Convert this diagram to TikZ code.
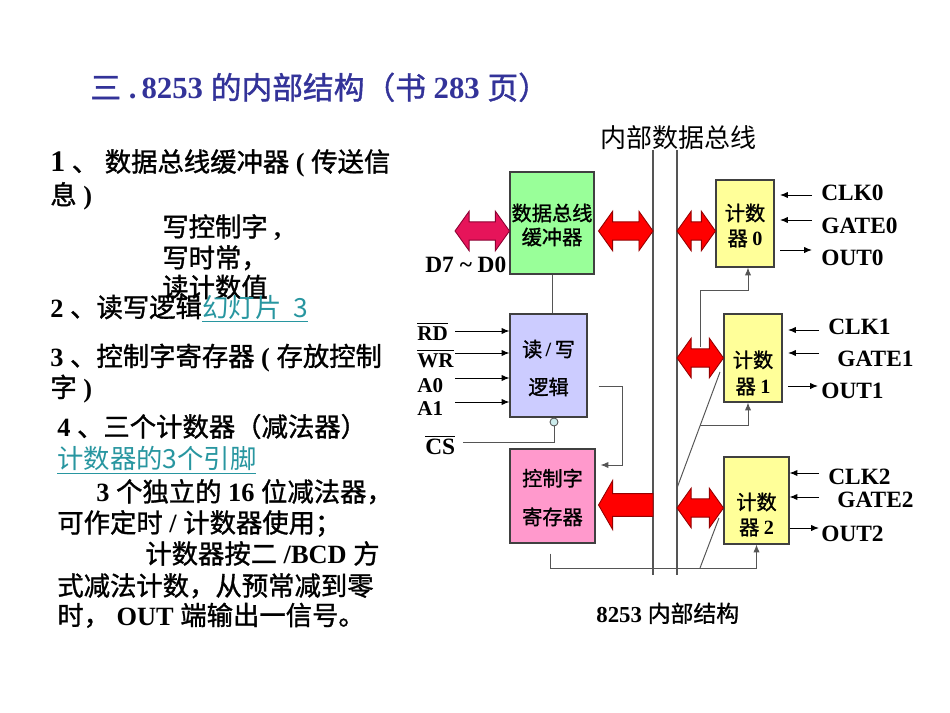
\documentclass[tikz,border=0pt]{standalone}
\usepackage{fontspec}
\setmainfont{Liberation Serif}
\newfontfamily\cjk{Noto Sans CJK SC}[FakeBold=1.2]
\newfontfamily\cjklight{Noto Sans CJK SC}
\usetikzlibrary{arrows.meta,calc}
\definecolor{titleblue}{RGB}{51,51,153}
\definecolor{linkteal}{RGB}{40,150,160}
\definecolor{bufgreen}{RGB}{153,255,153}
\definecolor{rwblue}{RGB}{204,204,255}
\definecolor{regpink}{RGB}{255,153,204}
\definecolor{cntyellow}{RGB}{255,255,153}
\definecolor{arrred}{RGB}{255,0,0}
\definecolor{arrdark}{RGB}{150,0,0}
\definecolor{crimson}{RGB}{230,20,90}
\definecolor{crimdark}{RGB}{140,0,50}
\definecolor{wiregray}{RGB}{85,85,85}
\definecolor{capcyan}{RGB}{204,236,236}
\newcommand\lat[1]{{\rmfamily\bfseries #1}}
\newcommand\fsz[2]{\fontsize{#1}{#2}\selectfont}
\def\ahl{8pt}\def\ahw{11.2pt}\def\asw{5.2pt}
\newcommand\dblarrow[3]{%
  \path[#3] let \p1=#1, \p2=#2 in
   (\x1,\y1) -- (\x1+\ahl,\y1+\ahw) -- (\x1+\ahl,\y1+\asw) -- (\x2-\ahl,\y1+\asw)
   -- (\x2-\ahl,\y1+\ahw) -- (\x2,\y1) -- (\x2-\ahl,\y1-\ahw) -- (\x2-\ahl,\y1-\asw)
   -- (\x1+\ahl,\y1-\asw) -- (\x1+\ahl,\y1-\ahw) -- cycle;}
\begin{document}
\begin{tikzpicture}[x=0.02cm,y=-0.02cm,
  txt/.style={inner sep=0pt, anchor=base west},
  box/.style={draw=black!75, line width=0.6pt, inner sep=0pt},
  wire/.style={draw=wiregray, line width=0.55pt},
  sig/.style={draw=black, line width=0.55pt, -{Latex[length=4.5pt,width=3.6pt]}},
  gsig/.style={wire, -{Latex[length=4.5pt,width=3.6pt]}},
  redarrow/.style={fill=arrred, draw=arrdark, line width=0.5pt},
  crimarrow/.style={fill=crimson, draw=crimdark, line width=0.5pt},
  bus/.style={draw=wiregray, line width=0.6pt},
  bt/.style={inner sep=0pt, align=center},
  lbl/.style={txt, font=\fsz{13.3pt}{13.3pt}\bfseries},
  pin/.style={txt, font=\fsz{12pt}{12pt}\bfseries}
]
\fill[white] (0,0) rectangle (950,713);
\useasboundingbox (0,0) rectangle (950,713);

% title
\node[txt, text=titleblue, font=\fsz{17.5pt}{17.5pt}] (title) at (90,99)
  {{\cjk 三} \lat{.\,8253} {\cjk 的内部结构（书} \lat{283} {\cjk 页）}};

% left text
\begin{scope}[every node/.append style={font=\fsz{15pt}{15pt}}]
\node[txt] (l1) at (50,171.5) {\lat{\fontsize{17pt}{17pt}\selectfont 1} {\cjk 、} {\cjk 数据总线缓冲器} \lat{(} {\cjk 传送信}};
\node[txt] (l2) at (50,204.5) {{\cjk 息} \lat{)}};
\node[txt] (l3) at (162,236.5) {{\cjk 写控制字} \lat{,}};
\node[txt] (l4) at (162,267.5) {{\cjk 写时常，}};
\node[txt] (l5) at (162,297) {{\cjk 读计数值}};
\node[txt] (l6) at (50,317) {\lat{2} {\cjk 、读写逻辑}};
\node[txt, text=linkteal] (l6b) at (202,317) {\underline{\cjklight 幻灯片\ \ 3}};
\node[txt] (l7) at (50,366) {\lat{3} {\cjk 、控制字寄存器} \lat{(} {\cjk 存放控制}};
\node[txt] (l8) at (50,397) {{\cjk 字} \lat{)}};
\node[txt] (l9) at (57,436.5) {\lat{4} {\cjk 、三个计数器（减法器）}};
\node[txt, text=linkteal] (l10) at (57,468.5) {\underline{\cjklight 计数器的3个引脚}};
\node[txt] (l11) at (96,501.5) {\lat{3} {\cjk 个独立的} \lat{16} {\cjk 位减法器，}};
\node[txt] (l12) at (57,532.5) {{\cjk 可作定时} \lat{/} {\cjk 计数器使用；}};
\node[txt] (l13) at (145,563.5) {{\cjk 计数器按二} \lat{/BCD} {\cjk 方}};
\node[txt] (l14) at (57,595.5) {{\cjk 式减法计数，从预常减到零}};
\node[txt] (l15) at (57,625) {{\cjk 时，} \lat{OUT} {\cjk 端输出一信号。}};
\end{scope}

% internal bus
\node[txt, font=\fsz{14.8pt}{14.8pt}\cjklight] (buslbl) at (600,148) {内部数据总线};
\coordinate (busLt) at (653,150); \coordinate (busLb) at (653,575);
\coordinate (busRt) at (677,150); \coordinate (busRb) at (677,575);
\draw[bus] (busLt) -- (busLb);
\draw[bus] (busRt) -- (busRb);

% boxes
\node[box, fill=bufgreen, minimum width=84*0.02cm, minimum height=102*0.02cm] (buf) at (552,223) {};
\node[bt, font=\fsz{11.5pt}{13.6pt}\cjk] at ($(buf.center)+(0,2)$) {数据总线\\缓冲器};
\node[box, fill=rwblue, minimum width=77*0.02cm, minimum height=103*0.02cm] (rw) at (548.5,365.5) {};
\node[bt, font=\fsz{11.5pt}{21.5pt}\cjk] at ($(rw.center)+(0,2.5)$) {读\,\lat{/}\,写\\逻辑};
\node[box, fill=regpink, minimum width=85*0.02cm, minimum height=94*0.02cm] (cwr) at (552.5,496) {};
\node[bt, font=\fsz{11.5pt}{22pt}\cjk] at ($(cwr.center)+(0,1.5)$) {控制字\\寄存器};
\node[box, fill=cntyellow, minimum width=58*0.02cm, minimum height=87*0.02cm] (c0) at (745,223.5) {};
\node[bt, font=\fsz{11.5pt}{14.3pt}\cjk] at ($(c0.center)+(0,2)$) {计数\\器 \lat{0}};
\node[box, fill=cntyellow, minimum width=58*0.02cm, minimum height=88*0.02cm] (c1) at (753,358) {};
\node[bt, font=\fsz{11.5pt}{15pt}\cjk] at ($(c1.center)+(0,15)$) {计数\\器 \lat{1}};
\node[box, fill=cntyellow, minimum width=65*0.02cm, minimum height=87*0.02cm] (c2) at (756.5,500.5) {};
\node[bt, font=\fsz{11.5pt}{14.3pt}\cjk] at ($(c2.center)+(0,14)$) {计数\\器 \lat{2}};

% thick arrows
\coordinate (dbus) at (455,231);
\dblarrow{(dbus)}{($(buf.west)+(0,8)$)}{crimarrow}
\dblarrow{($(buf.east)+(4,8)$)}{($(busLt |- buf.east)+(0,8)$)}{redarrow}
\dblarrow{($(busRt |- c0.west)+(0,7.5)$)}{($(c0.west)+(0,7.5)$)}{redarrow}
\dblarrow{(busRt |- c1.west)}{(c1.west)}{redarrow}
\dblarrow{($(busRt |- c2.west)+(0,7.5)$)}{($(c2.west)+(0,7.5)$)}{redarrow}
\path[redarrow] let \p1=($(cwr.east)+(3,9)$), \p2=($(busLt |- cwr.east)+(0,9)$) in
  (\x1,\y1) -- (\x1+8pt,\y1+13.9pt) -- (\x1+8pt,\y1+6.5pt) -- (\x2,\y1+6.5pt)
  -- (\x2,\y1-6.5pt) -- (\x1+8pt,\y1-6.5pt) -- (\x1+8pt,\y1-13.9pt) -- cycle;

\node[lbl] (dlbl) at (425,272) {D7 \textasciitilde\ D0};

% read/write inputs
\node[pin] (rd) at (417,340) {$\overline{\hbox{\bfseries RD}}$};
\node[pin] (wr) at (417,367) {$\overline{\hbox{\bfseries WR}}$};
\node[pin] (a0) at (417,392) {A0};
\node[pin] (a1) at (417,415) {A1};
\coordinate (rdL) at (455,331); \coordinate (wrL) at (455,353);
\coordinate (a0L) at (455,378); \coordinate (a1L) at (455,402);
\foreach \s in {rdL,wrL,a0L,a1L} \draw[sig] (\s) -- (\s -| rw.west);

% chip select
\node[circle, draw=wiregray, fill=capcyan, line width=0.5pt, inner sep=0pt, minimum size=8*0.02cm] (csb) at (554,422) {};
\coordinate (csL) at (463,442);
\draw[wire] (csb.south) |- (csL);
\node[lbl] (cs) at (425,454) {$\overline{\hbox{\bfseries CS}}$};

% internal wires
\draw[wire] (buf.south) -- (buf.south |- rw.north);
\draw[gsig] ($(rw.east)+(11,20.5)$) -- ++(24,0) |- ($(cwr.east)+(5,-31)$);
\draw[gsig] ($(cwr.south)+(-2.5,10)$) -- ++(0,15) -| (c2.south);
\coordinate (j0) at (700,347);
\draw[gsig] (j0) -- ++(0,-57) -| ($(c0.south)+(3,0)$);
\coordinate (d1a) at (busRt |- 0,488); \coordinate (d1b) at (720,372);
\draw[wire] (d1a) -- (d1b);
\coordinate (j1) at ($(d1a)!0.543!(d1b)$);
\draw[gsig] (j1) -| ($(c1.south)+(-5,0)$);
\coordinate (d2a) at (700,568); \coordinate (d2b) at (719,518);
\draw[wire] (d2a) -- (d2b);

% counter pins
\node[lbl] (clk0) at (821,200) {CLK0};
\node[lbl] (gate0) at (821,233) {GATE0};
\node[lbl] (out0) at (821,265) {OUT0};
\node[lbl] (clk1) at (828,334) {CLK1};
\node[lbl] (gate1) at (837,366) {GATE1};
\node[lbl] (out1) at (821,398) {OUT1};
\node[lbl] (clk2) at (828,484) {CLK2};
\node[lbl] (gate2) at (837,507) {GATE2};
\node[lbl] (out2) at (821,541) {OUT2};
\coordinate (k0) at (812,195); \coordinate (g0) at (812,220); \coordinate (o0) at (780,250);
\draw[sig] (k0) -- (780,195);
\draw[sig] (g0) -- (780,220);
\draw[sig] (o0) -- (812,250);
\coordinate (k1) at (819,330); \coordinate (g1) at (819,353); \coordinate (o1) at (788,386);
\draw[sig] (k1) -- (788,330);
\draw[sig] (g1) -- (788,353);
\draw[sig] (o1) -- (818,386);
\coordinate (k2) at (819,473); \coordinate (g2) at (819,497); \coordinate (o2) at (c2.east |- 0,528);
\draw[sig] (k2) -- (k2 -| c2.east);
\draw[sig] (g2) -- (g2 -| c2.east);
\draw[sig] (o2) -- (819,528);

% caption
\node[txt, font=\fsz{13pt}{13pt}] (cap) at (596,622) {\lat{8253} {\cjk 内部结构}};
\end{tikzpicture}
\end{document}
